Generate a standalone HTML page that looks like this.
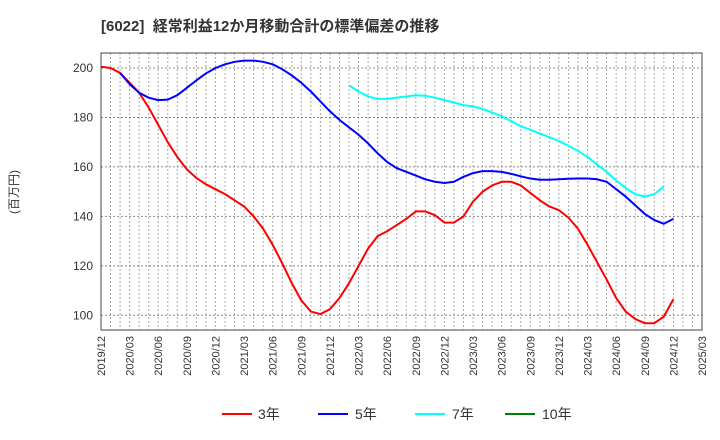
<!DOCTYPE html>
<html><head><meta charset="utf-8"><style>
body{margin:0;background:#fff;}
svg{display:block;font-family:"Liberation Sans","Noto Sans CJK JP",sans-serif;}
</style></head><body>
<svg id="chart" width="720" height="440">
<text x="101" y="31" font-size="15" font-weight="bold" fill="#333">[6022]&#160;&#160;経常利益12か月移動合計の標準偏差の推移</text>
<text transform="translate(18,192) rotate(-90)" text-anchor="middle" font-size="12" fill="#333">(百万円)</text>
<g id="grid"></g><g id="series"></g><g id="axes"></g>
<g font-size="14" fill="#333">
<g><line x1="222" y1="414" x2="252" y2="414" stroke="#ff0000" stroke-width="2"/><text x="258" y="419">3年</text></g>
<g><line x1="318" y1="414" x2="348" y2="414" stroke="#0000ff" stroke-width="2"/><text x="355" y="419">5年</text></g>
<g><line x1="415" y1="414" x2="445" y2="414" stroke="#00ffff" stroke-width="2"/><text x="452" y="419">7年</text></g>
<g><line x1="505" y1="414" x2="535" y2="414" stroke="#008000" stroke-width="2"/><text x="542" y="419">10年</text></g>
</g>
</svg>
<script>
const xLabels=["2019/12","2020/03","2020/06","2020/09","2020/12","2021/03","2021/06","2021/09","2021/12","2022/03","2022/06","2022/09","2022/12","2023/03","2023/06","2023/09","2023/12","2024/03","2024/06","2024/09","2024/12","2025/03"];
const yTicks=[100,120,140,160,180,200];
const red=[200.5,200,198,194,190,184,177,170,164,159,155.5,153,151,149,146.5,144,140,135,128.5,121,113,106,101.5,100.5,102.5,107,113,120,127,132,134,136.5,139,142,142,140.5,137.5,137.5,140,146,150,152.5,154,154,152.5,149.5,146.5,144,142.5,139.5,135,128.5,121.5,114.5,107,101.5,98.5,96.8,96.8,99.5,106.5];
const blueStart=2;
const blue=[198,193.5,190,188,187,187.2,189,192,195,197.8,200,201.5,202.5,203,203,202.5,201.5,199.5,197,194,190.5,186.5,182.5,179,176,173,169.5,165.5,162,159.5,158,156.5,155,154,153.5,154,156,157.5,158.3,158.3,158,157.2,156.2,155.3,154.8,154.8,155,155.2,155.3,155.3,155,154,151,148,144.5,141,138.5,137,139];
const cyanStart=26;
const cyan=[193,190.5,188.5,187.5,187.5,188,188.5,189,188.8,188,187,186,185,184.5,183.5,182,180.5,178.5,176.5,175,173.5,172,170.5,168.5,166.5,164,161,158,154.5,151.5,149,148,149,152];
const green=[];
const L=101,R=702,T=53,B=330,NM=63;
const X=m=>L+(R-L)*m/NM;
const Y=v=>315.3-(v-100)*(315.3-68)/100;
const NS="http://www.w3.org/2000/svg";
function mk(tag,attrs,parent){const e=document.createElementNS(NS,tag);for(const k in attrs)e.setAttribute(k,attrs[k]);parent.appendChild(e);return e;}
const grid=document.getElementById('grid'),axes=document.getElementById('axes'),ser=document.getElementById('series');
mk('rect',{x:L,y:T,width:R-L,height:B-T,fill:'#fff'},grid);
for(let m=1;m<NM;m++){const l=mk('line',{x1:X(m),y1:T,x2:X(m),y2:B,stroke:'#aaa','stroke-width':1,'stroke-dasharray':'2,2'},grid);

}
yTicks.forEach(v=>{const l=mk('line',{x1:L,y1:Y(v),x2:R,y2:Y(v),stroke:'#888','stroke-width':1,'stroke-dasharray':'2,2'},grid);


const t=mk('text',{x:L-8,y:Y(v)+4,'text-anchor':'end','font-size':12,fill:'#333'},axes);t.textContent=v;

});
xLabels.forEach((s,i)=>{const x=X(i*3);const t=mk('text',{transform:`translate(${x+4},${B+6}) rotate(-90)`,'text-anchor':'end','font-size':11,fill:'#333'},axes);t.textContent=s;

});
const fr=mk('rect',{x:L,y:T,width:R-L,height:B-T,fill:'none',stroke:'#444','stroke-width':1},axes);


function line(arr,start,color,name){if(!arr.length)return;const p=mk('polyline',{points:arr.map((v,i)=>X(start+i)+','+Y(v)).join(' '),fill:'none',stroke:color,'stroke-width':2,'stroke-linejoin':'round'},ser);

}
line(red,0,'#ff0000','series-3y');
line(blue,blueStart,'#0000ff','series-5y');
line(cyan,cyanStart,'#00ffff','series-7y');
line(green,0,'#008000','series-10y');
</script>
</body></html>
